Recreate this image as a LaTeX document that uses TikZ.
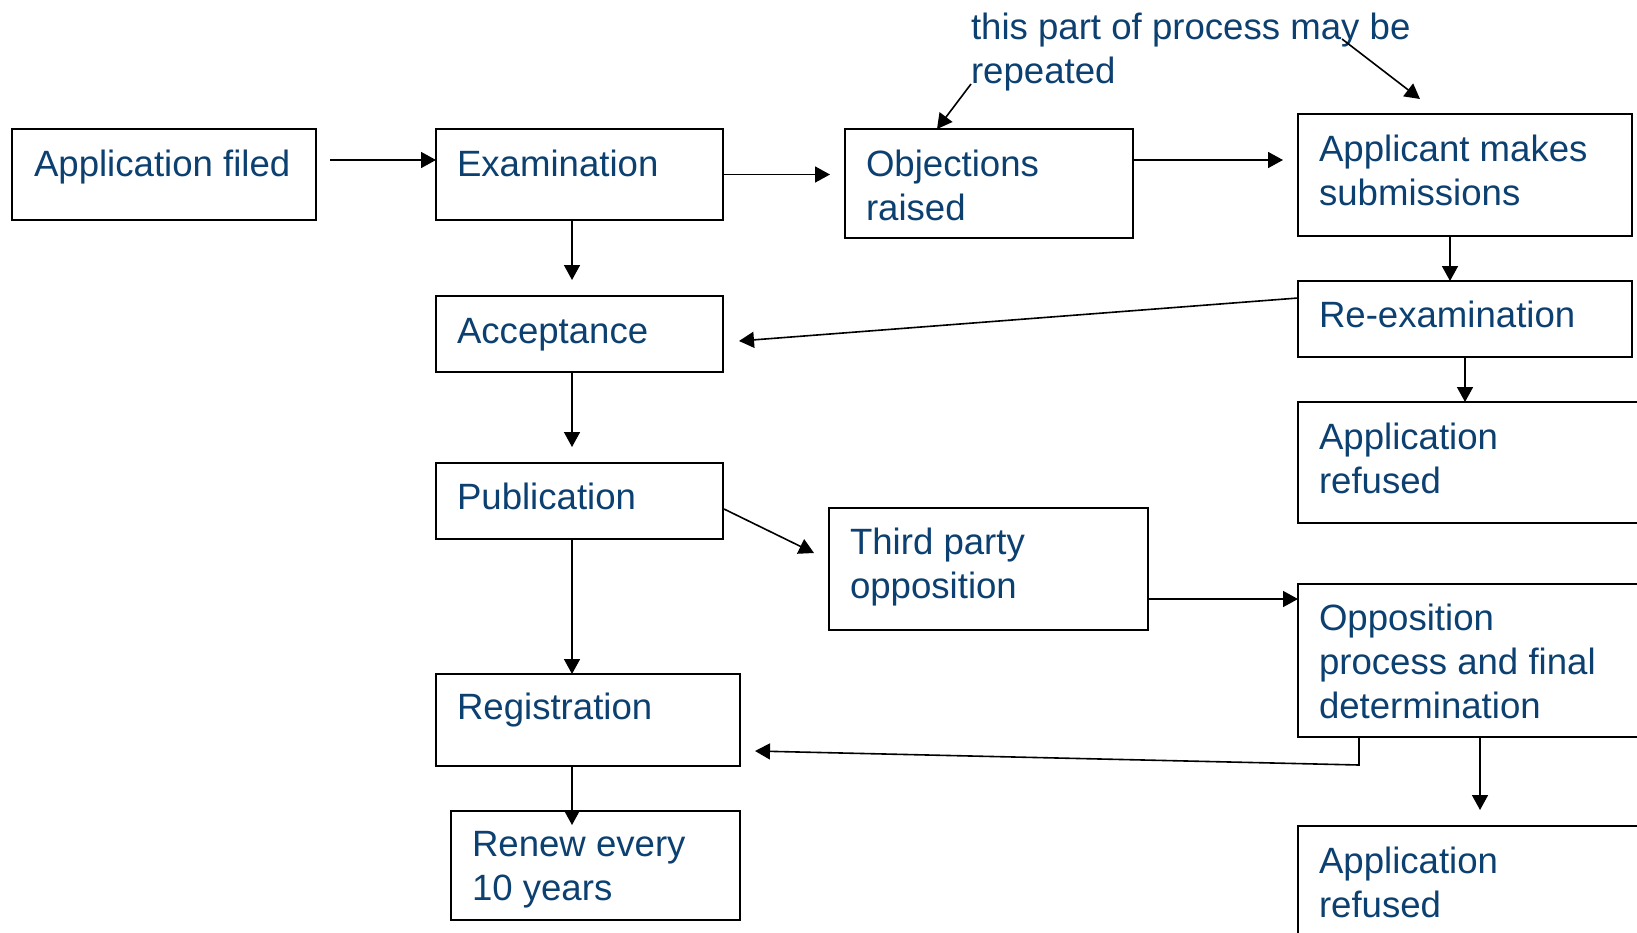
\documentclass[tikz,border=0pt]{standalone}
\usepackage{fontspec}
\setmainfont{Liberation Sans}
\usetikzlibrary{arrows.meta,calc}
\definecolor{labelblue}{RGB}{12,64,112}
% left-aligned stack of lines whose baseline is that of the first line
\newcommand\toplines[1]{\begin{tabular}[t]{@{}l@{}}#1\end{tabular}}
\begin{document}
\begin{tikzpicture}[x=0.5pt,y=-0.5pt,
  stepbox/.style 2 args={draw=black, line width=1.3pt, inner sep=0pt, outer sep=0pt,
    anchor=north west, minimum width=#1*0.5pt, minimum height=#2*0.5pt},
  boxlabel/.style={anchor=base west, inner sep=0pt, outer sep=0pt,
    text=labelblue, font=\fontsize{18.3}{22.2}\selectfont},
  conn/.style={draw=black, line width=0.8pt, -{Triangle[length=7.5pt,width=8pt]}},
]
\clip (0,0) rectangle (1637,932);

% process boxes (pixel grid, y pointing down)
\node[stepbox={304}{91}]  (af)    at (12,129)   {};
\node[stepbox={287}{91}]  (exam)  at (436,129)  {};
\node[stepbox={288}{109}] (obj)   at (845,129)  {};
\node[stepbox={334}{122}] (appl)  at (1298,114) {};
\node[stepbox={287}{76}]  (acc)   at (436,296)  {};
\node[stepbox={334}{76}]  (reex)  at (1298,281) {};
\node[stepbox={362}{121}] (ref1)  at (1298,402) {};
\node[stepbox={287}{76}]  (pub)   at (436,463)  {};
\node[stepbox={319}{122}] (third) at (829,508)  {};
\node[stepbox={362}{153}] (opp)   at (1298,584) {};
\node[stepbox={304}{92}]  (reg)   at (436,674)  {};
\node[stepbox={289}{109}] (renew) at (451,811)  {};
\node[stepbox={362}{134}] (ref2)  at (1298,826) {};

% box texts, top-left aligned
\node[boxlabel] (af-t)    at ($(af.north west)+(22,47)$)    {Application filed};
\node[boxlabel] (exam-t)  at ($(exam.north west)+(21,47)$)  {Examination};
\node[boxlabel] (obj-t)   at ($(obj.north west)+(21,47)$)   {\toplines{Objections\\raised}};
\node[boxlabel] (appl-t)  at ($(appl.north west)+(21,47)$)  {\toplines{Applicant makes\\submissions}};
\node[boxlabel] (acc-t)   at ($(acc.north west)+(21,47)$)   {Acceptance};
\node[boxlabel] (reex-t)  at ($(reex.north west)+(21,46)$)  {Re-examination};
\node[boxlabel] (ref1-t)  at ($(ref1.north west)+(21,47)$)  {\toplines{Application\\refused}};
\node[boxlabel] (pub-t)   at ($(pub.north west)+(21,46)$)   {Publication};
\node[boxlabel] (third-t) at ($(third.north west)+(21,46)$) {\toplines{Third party\\opposition}};
\node[boxlabel] (opp-t)   at ($(opp.north west)+(21,46)$)   {\toplines{Opposition\\process and final\\determination}};
\node[boxlabel] (reg-t)   at ($(reg.north west)+(21,45)$)   {Registration};
\node[boxlabel] (renew-t) at ($(renew.north west)+(21,45)$) {\toplines{Renew every\\10 years}};
\node[boxlabel] (ref2-t)  at ($(ref2.north west)+(21,47)$)  {\toplines{Application\\refused}};

% free-standing note
\node[boxlabel] (note) at (971,39) {\toplines{this part of process may be\\repeated}};

% connectors
\draw[conn] ($(af.north east)+(14,31)$) -- ($(exam.north west)+(0,31)$);
\draw[conn] (exam.east) -- ($(obj.west |- exam.east)+(-15,0)$);
\draw[conn] ($(obj.north east)+(0,31)$) -- ($(appl.north west)+(-15,46)$);
\draw[conn] ($(note.base west)+(0,45)$) -- ($(obj.north west)+(92,0)$);
\draw[conn] ($(note.base west)+(371,0)$) -- ($(appl.north west)+(122,-15)$);
\draw[conn] ($(exam.south west)+(136,0)$) -- ($(acc.north west)+(136,-16)$);
\draw[conn] ($(acc.south west)+(136,0)$) -- ($(pub.north west)+(136,-16)$);
\draw[conn] ($(pub.south west)+(136,0)$) -- ($(reg.north west)+(136,0)$);
\draw[conn] ($(reg.south west)+(136,0)$) -- ($(renew.north west)+(121,14)$);
\draw[conn] ($(pub.north east)+(1,46)$) -- ($(third.north west)+(-15,45)$);
\draw[conn] ($(third.north east)+(0,91)$) -- ($(opp.north west)+(0,15)$);
\draw[conn] ($(appl.south west)+(152,0)$) -- ($(reex.north west)+(152,0)$);
\draw[conn] ($(reex.north west)+(0,17)$) -- ($(acc.north east)+(16,45)$);
\draw[conn] ($(reex.south west)+(167,0)$) -- ($(ref1.north west)+(167,0)$);
\draw[conn] ($(opp.south west)+(182,0)$) -- ($(ref2.north west)+(182,-16)$);
\draw[conn] ($(opp.south west)+(61,0)$) -- ++(0,28) -- ($(reg.north east)+(15,77)$);
\end{tikzpicture}
\end{document}
